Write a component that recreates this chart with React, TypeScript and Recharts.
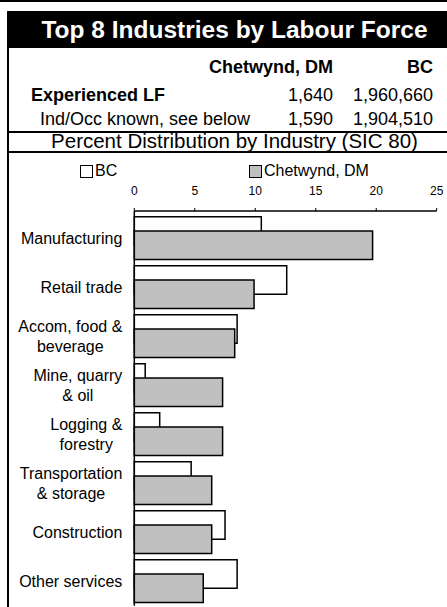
import { Bar, BarChart, Legend, XAxis, YAxis } from "recharts";

// Percent distribution of the experienced labour force, top 8 industries (SIC 80)
const categories = [
  "Manufacturing",
  "Retail trade",
  "Accom, food &\nbeverage",
  "Mine, quarry\n& oil",
  "Logging &\nforestry",
  "Transportation\n& storage",
  "Construction",
  "Other services",
];
const bcPct = [10.5, 12.6, 8.5, 0.9, 2.1, 4.7, 7.5, 8.5];
const chetwyndPct = [19.7, 9.9, 8.3, 7.3, 7.3, 6.4, 6.4, 5.7];
const xTicks = [0, 5, 10, 15, 20, 25];

// summary table above the chart
const tableHeader = ["Chetwynd, DM", "BC"];
const rowLabels = ["Experienced LF", "Ind/Occ known, see below"];
const chetwyndCounts = ["1,640", "1,590"];
const bcCounts = ["1,960,660", "1,904,510"];

const FONT = '"Liberation Sans", Arial, Helvetica, sans-serif';

const data = categories.map((name, i) => ({
  name,
  bc: bcPct[i],
  chetwynd: chetwyndPct[i],
}));

let ctx: CanvasRenderingContext2D | null = null;
function textWidth(s: string, size: number): number {
  if (!ctx) ctx = document.createElement("canvas").getContext("2d");
  if (!ctx) return s.length * size * 0.5;
  ctx.font = `${size}px "Liberation Sans", Arial`;
  return ctx.measureText(s).width;
}

// right-aligned block, lines centred on each other (like Excel's wrapped labels)
function CategoryTick({ x, y, payload }: any) {
  const lines = String(payload.value).split("\n");
  const w = Math.max(...lines.map((l) => textWidth(l, 16)));
  const cx = x - w / 2;
  const lh = 20;
  return (
    <text x={cx} y={y} textAnchor="middle" fontSize={16} fill="#000" fontFamily={FONT}>
      {lines.map((l, i) => (
        <tspan key={i} x={cx} y={y + (i - (lines.length - 1) / 2) * lh} dy="0.35em">
          {l}
        </tspan>
      ))}
    </text>
  );
}

function LegendContent({ payload }: any) {
  const lefts = [71, 240];
  return (
    <div style={{ position: "relative", height: 20, fontFamily: FONT, fontSize: 16, lineHeight: "20px" }}>
      {(payload ?? []).map((p: any, i: number) => (
        <div key={p.value} style={{ position: "absolute", left: lefts[i], top: 0, display: "flex", alignItems: "center" }}>
          <span
            style={{
              display: "inline-block",
              width: 11,
              height: 11,
              border: "1.5px solid #000",
              background: p.color,
              marginRight: 2,
            }}
          />
          <span>{p.value}</span>
        </div>
      ))}
    </div>
  );
}

const rowCenters = [95, 119];

export default function App() {
  return (
    <div
      style={{
        position: "absolute",
        left: 0,
        top: 0,
        width: 447,
        height: 607,
        overflow: "hidden",
        background: "#fff",
        fontFamily: FONT,
        color: "#000",
      }}
    >
      <div style={{ position: "absolute", left: 0, top: 0, width: 447, height: 2, background: "#000" }} />
      {/* outer frame, right edge runs off the page */}
      <div
        style={{
          position: "absolute",
          left: 7,
          top: 11,
          width: 460,
          height: 640,
          borderLeft: "2px solid #000",
          borderTop: "2px solid #000",
        }}
      />
      <div
        style={{
          position: "absolute",
          left: 7,
          top: 11,
          width: 455,
          height: 37,
          background: "#000",
          color: "#fff",
          fontWeight: "bold",
          fontSize: 24.5,
          lineHeight: "37px",
          textAlign: "center",
          whiteSpace: "nowrap",
        }}
      >
        Top 8 Industries by Labour Force
      </div>

      <div style={{ position: "absolute", top: 57, right: 447 - 333, fontSize: 18, fontWeight: "bold", lineHeight: "20px" }}>
        {tableHeader[0]}
      </div>
      <div style={{ position: "absolute", top: 57, right: 447 - 433, fontSize: 18, fontWeight: "bold", lineHeight: "20px" }}>
        {tableHeader[1]}
      </div>
      {rowLabels.map((label, i) => {
        const top = rowCenters[i] - 10;
        return (
          <div key={label}>
            <div
              style={{
                position: "absolute",
                top,
                left: i === 0 ? 31 : 40,
                fontSize: 18,
                fontWeight: i === 0 ? "bold" : "normal",
                lineHeight: "20px",
                whiteSpace: "nowrap",
              }}
            >
              {label}
            </div>
            <div style={{ position: "absolute", top, right: 447 - 333, fontSize: 18, lineHeight: "20px" }}>
              {chetwyndCounts[i]}
            </div>
            <div style={{ position: "absolute", top, right: 447 - 433, fontSize: 18, lineHeight: "20px" }}>
              {bcCounts[i]}
            </div>
          </div>
        );
      })}

      <div style={{ position: "absolute", left: 7, top: 131, width: 450, height: 2, background: "#000" }} />
      <div
        style={{
          position: "absolute",
          left: 7,
          top: 131,
          width: 455,
          height: 20,
          fontSize: 20.5,
          lineHeight: "19px",
          textAlign: "center",
          whiteSpace: "nowrap",
        }}
      >
        Percent Distribution by Industry (SIC 80)
      </div>
      <div style={{ position: "absolute", left: 7, top: 151, width: 450, height: 2, background: "#000" }} />

      <div style={{ position: "absolute", left: 9, top: 153 }}>
        <BarChart
          width={438}
          height={455}
          data={data}
          layout="vertical"
          margin={{ top: 28, right: 10.3, bottom: 2.3, left: 0 }}
          barSize={28.5}
          barGap={-14.3}
        >
          <XAxis
            type="number"
            orientation="top"
            domain={[0, 25]}
            ticks={xTicks}
            height={30}
            tickSize={3}
            tickMargin={12.8}
            tick={{ fontSize: 12, fill: "#000" }}
            axisLine={{ stroke: "#000", strokeWidth: 1.5 }}
            tickLine={{ stroke: "#000" }}
          />
          <YAxis
            type="category"
            dataKey="name"
            width={125.3}
            padding={{ top: 2.7, bottom: 0 }}
            tickSize={0}
            tickMargin={12}
            tickLine={false}
            axisLine={{ stroke: "#000", strokeWidth: 1.5 }}
            tick={<CategoryTick />}
            interval={0}
          />
          <Legend
            layout="horizontal"
            verticalAlign="middle"
            align="center"
            wrapperStyle={{ top: 8, left: 0, width: 438 }}
            content={<LegendContent />}
          />
          <Bar dataKey="bc" name="BC" fill="#ffffff" stroke="#000" strokeWidth={1.5} isAnimationActive={false} />
          <Bar
            dataKey="chetwynd"
            name="Chetwynd, DM"
            fill="#c0c0c0"
            stroke="#000"
            strokeWidth={1.5}
            isAnimationActive={false}
          />
        </BarChart>
      </div>
    </div>
  );
}
